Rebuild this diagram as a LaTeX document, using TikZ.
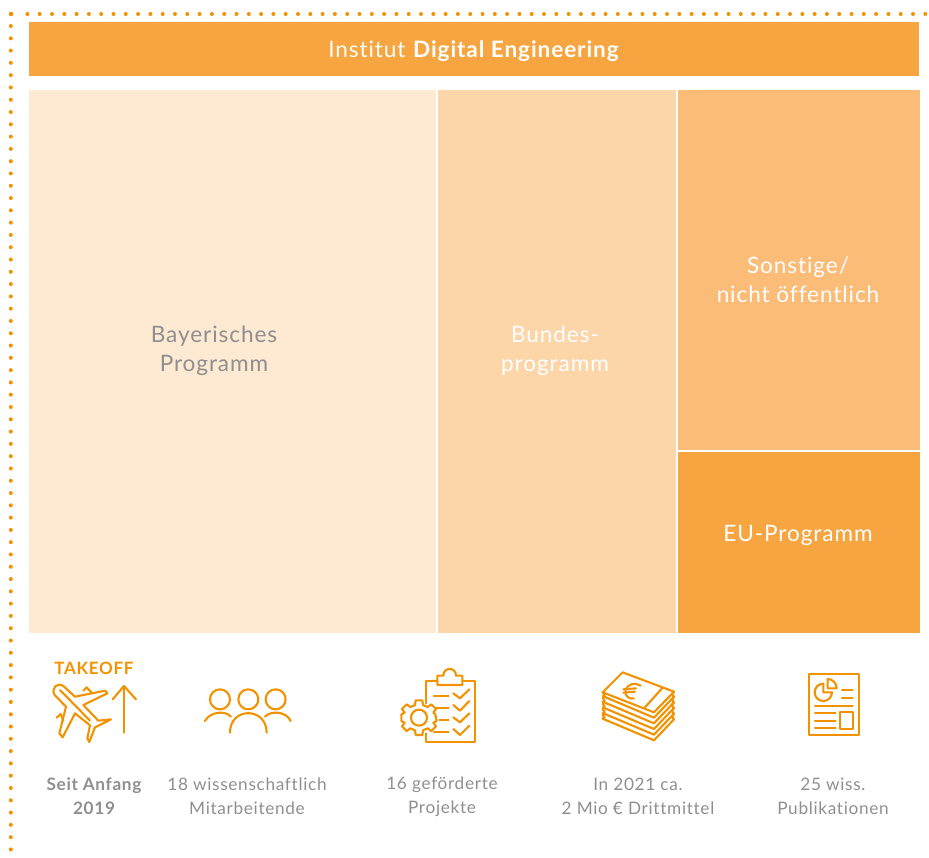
\documentclass[tikz,border=0pt]{standalone}
\usepackage{fontspec}
\setmainfont{Lato}[LetterSpace=4,Ligatures={NoCommon,NoRare,NoContextual}]
\definecolor{hdr}{HTML}{F7A541}
\definecolor{bay}{HTML}{FEE9D3}
\definecolor{bund}{HTML}{FCD5A8}
\definecolor{sons}{HTML}{FBBC78}
\definecolor{icn}{HTML}{F39200}
\definecolor{gry}{HTML}{8F8F8F}
\tikzset{
  block/.style={fill=#1,draw=none},
  bigtxt/.style={align=center,font=\fontsize{22.6}{29}\selectfont,inner sep=0pt},
  smalltxt/.style={align=center,font=\fontsize{17.2}{24}\selectfont,text=gry,inner sep=0pt},
  ico/.style={draw=icn,line width=2.1pt,line join=round,line cap=round,fill=none},
  dotmark/.style={fill=icn,draw=none},
}
\begin{document}
\begin{tikzpicture}[x=1pt,y=-1pt]
\useasboundingbox (0,0) rectangle (929,857);
% dotted frame
\foreach \i in {0,...,73} \fill[dotmark] ({27.4+\i*12.3},14) circle (2pt);
\foreach \i in {0,...,67} \fill[dotmark] (10.8,{26+\i*12.29}) circle (2pt);
\fill[dotmark] (11,14) circle (2.3pt);
% blocks
\fill[block=hdr] (29,22) rectangle (919,76);
\fill[block=bay] (29,90) rectangle (436,633);
\fill[block=bund] (438,90) rectangle (676,633);
\fill[block=sons] (678,90) rectangle (920,450);
\fill[block=hdr] (678,452) rectangle (920,633);
% labels
\node[bigtxt,text=white] (title) at (474,51.5) {Institut \textbf{Digital Engineering}};
\node[bigtxt,text=gry] (bayer) at (214,351) {Bayerisches\\Programm};
\node[bigtxt,text=white] (bundes) at (555,351) {Bundes-\\programm};
\node[bigtxt,text=white] (sonst) at (798,279.5) {Sonstige/\\nicht öffentlich};
\node[bigtxt,text=white] (eu) at (798,535) {EU-Programm};
\node[inner sep=0pt,text=icn,font=\fontsize{17}{20}\selectfont\bfseries] (takeoff) at (94,668) {TAKEOFF};
\node[smalltxt,font=\fontsize{17.2}{24}\selectfont\bfseries] (seit) at (94,796.5) {Seit Anfang\\2019};
\node[smalltxt] (wiss) at (247,796.5) {18 wissenschaftlich\\Mitarbeitende};
\node[smalltxt] (proj) at (442,797) {16 geförderte\\Projekte};
\node[smalltxt] (geld) at (638,796.5) {In 2021 ca.\\2 Mio € Drittmittel};
\node[smalltxt] (pub) at (833,796.5) {25 wiss.\\Publikationen};
% plane + arrow
\begin{scope}[shift={(30,650)},x=0.3333pt,y=-0.3333pt]
\draw[ico] (74,135) .. controls (62,115) and (82,95) .. (100,108) -- (135,140) -- (226,122) -- (232,130) -- (160,165) -- (205,212) -- (243,208) -- (195,232) -- (178,276) -- (172,265) -- (180,226) -- (135,190) -- (98,262) -- (88,250) -- (108,170) -- cycle;
\draw[ico] (160,122) -- (170,112) -- (185,128);
\draw[ico] (80,203) -- (92,192) -- (100,212);
\draw[ico] (90,120) -- (180,212);
\draw[ico] (282,248) -- (282,108);
\draw[ico] (248,148) -- (282,108) -- (318,148);
% people
\draw[ico] (570,148) circle[x radius=30,y radius=30];
\draw[ico] (655,148) circle[x radius=30,y radius=30];
\draw[ico] (737,148) circle[x radius=30,y radius=30];
\draw[ico] (600,248) .. controls (600,170) and (710,170) .. (710,248);
\draw[ico] (525,213) .. controls (540,185) and (585,180) .. (603,200);
\draw[ico] (705,200) .. controls (725,180) and (770,185) .. (782,213);
\end{scope}
% checklist + money
\begin{scope}[shift={(380,655)},x=0.3333pt,y=-0.3333pt]
\draw[ico] (137,145) -- (137,77) -- (172,77);
\draw[ico] (247,77) -- (284,77) -- (284,262) -- (137,262) -- (137,235);
\draw[ico] (172,62) -- (172,90) -- (247,90) -- (247,62) -- (228,62) .. controls (228,35) and (190,35) .. (190,62) -- cycle;
\draw[ico] (117,188) circle[x radius=24,y radius=24];
\draw[ico] (107,136) -- (127,136) -- (129,150) -- (143,156) -- (154,148) -- (168,162) -- (160,173) -- (166,178) -- (170,198) -- (160,203) -- (168,214) -- (154,228) -- (143,220) -- (129,226) -- (127,240) -- (107,240) -- (105,226) -- (91,220) -- (80,228) -- (66,214) -- (74,203) -- (64,198) -- (64,178) -- (74,173) -- (66,162) -- (80,148) -- (91,156) -- (105,150) -- cycle;
\draw[ico] (162,123) -- (206,123);
\draw[ico] (168,158) -- (206,158);
\draw[ico] (178,194) -- (206,194);
\draw[ico] (162,232) -- (206,232);
\draw[ico] (220,115) -- (240,130) -- (268,103);
\draw[ico] (220,150) -- (240,167) -- (268,138);
\draw[ico] (220,187) -- (240,202) -- (268,175);
\draw[ico] (220,222) -- (240,240) -- (268,212);
% money stack
\draw[ico] (668,112) -- (728,52) -- (882,110) -- (822,172) -- cycle;
\draw[ico] (848,98) -- (795,157);
\foreach \d in {17,34,51,68,85} {
  \draw[ico] (668,{112+\d-6}) -- (822,{172+\d-1}) -- (882,{110+\d-2});
}
\draw[ico] (668,112) -- (674,120) -- (668,129) -- (674,137) -- (668,146) -- (674,154) -- (668,163) -- (674,171) -- (668,180) -- (674,188) -- (668,191);
\draw[ico] (882,110) -- (876,118) -- (882,125) -- (876,135) -- (882,142) -- (876,152) -- (882,159) -- (876,169) -- (882,176) -- (876,186) -- (882,193);
\draw[ico] (782,92) .. controls (765,82) and (745,85) .. (737,105) .. controls (733,120) and (745,135) .. (762,130);
\draw[ico] (730,103) -- (768,100);
\draw[ico] (730,113) -- (765,110);
\end{scope}
% publication
\begin{scope}[shift={(780,660)},x=0.3333pt,y=-0.3333pt]
\draw[ico] (86,43) rectangle (236,224);
\draw[ico] (130,71) .. controls (115.6,71) and (104,82.6) .. (104,97) .. controls (104,111.4) and (115.6,123) .. (130,123) .. controls (144.4,123) and (156,111.4) .. (156,97) -- (130,97) -- cycle;
\draw[ico] (143,57) -- (143,85) -- (170,85) .. controls (170,70) and (158,57) .. (143,57) -- cycle;
\draw[ico] (186,91) -- (218,91);
\draw[ico] (186,115) -- (218,115);
\draw[ico] (105,137) -- (218,137);
\draw[ico] (105,158) -- (167,158);
\draw[ico] (105,182) -- (167,182);
\draw[ico] (105,205) -- (167,205);
\draw[ico] (179,157) rectangle (218,208);
\end{scope}
\end{tikzpicture}
\end{document}
